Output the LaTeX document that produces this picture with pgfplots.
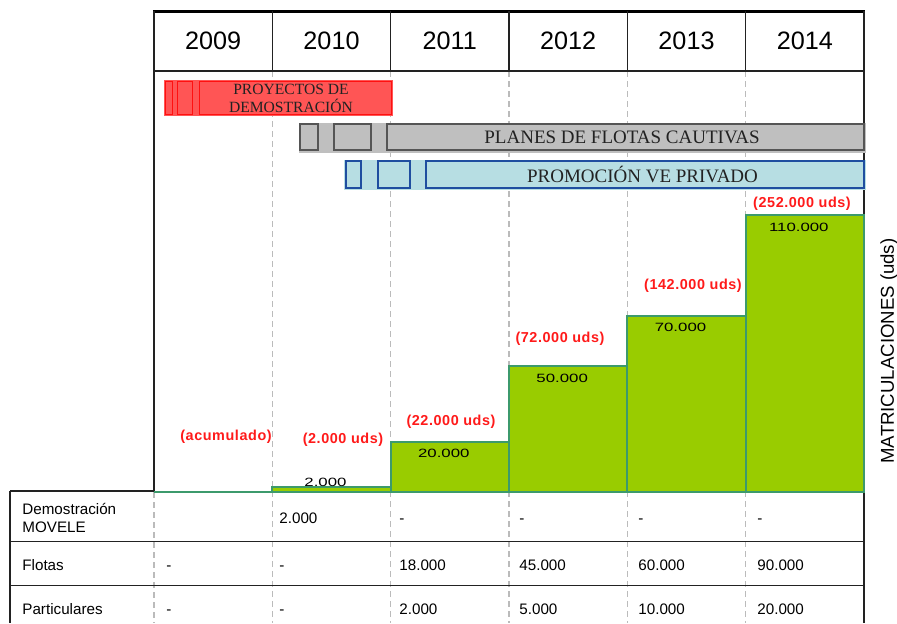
\documentclass[border=0pt]{standalone}
\usepackage{fontspec}
\setmainfont{Liberation Sans}
\newfontfamily\serif{Liberation Serif}
\newfontfamily\redfont[LetterSpace=4]{Liberation Sans}
\usepackage{graphicx}
\usepackage{pgfplots}
\pgfplotsset{compat=1.18}

\definecolor{barfill}{HTML}{99CC00}
\definecolor{baredge}{HTML}{3C9A6C}
\definecolor{redfill}{HTML}{FF5555}
\definecolor{rededge}{HTML}{FF1010}
\definecolor{grayfill}{HTML}{BFBFBF}
\definecolor{grayedge}{HTML}{555555}
\definecolor{bluefill}{HTML}{B7DEE3}
\definecolor{blueedge}{HTML}{1F4EA0}
\definecolor{gridgray}{HTML}{BBBBBB}
\definecolor{redtxt}{HTML}{FF1A1A}
\definecolor{linecol}{HTML}{222222}

\begin{document}
\begin{tikzpicture}
% background frame: coordinates in pixels of the reference (y downwards)
\begin{axis}[name=bg, at={(0,0)}, anchor=south west, scale only axis,
  width=448.5pt, height=311.5pt, xmin=0, xmax=897, ymin=0, ymax=623,
  y dir=reverse, hide axis, clip=false]
  % dashed grid
  \pgfplotsinvokeforeach{272.3,390.7,509,627.3,745.7}{
    \draw[gridgray, line width=0.6pt, dash pattern=on 3pt off 2pt] (#1,71) -- (#1,623);
  }
  \draw[gridgray, line width=0.6pt, dash pattern=on 3pt off 2pt] (154,492) -- (154,623);
  % header
  \draw[black, line width=1.5pt] (153,11.5) -- (864.5,11.5);
  \pgfplotsinvokeforeach{154,272.3,390.7,509,627.3,745.7,864}{
    \draw[linecol, line width=0.75pt] (#1,11) -- (#1,71);
  }
  \draw[linecol, line width=0.8pt] (154,71) -- (864,71);
  \draw[linecol, line width=0.6pt] (154,71) -- (154,492);
  \draw[linecol, line width=0.6pt] (864,71) -- (864,623);
  \node[font=\fontsize{12.6}{14}\selectfont] at (213.2,41) {2009};
  \node[font=\fontsize{12.6}{14}\selectfont] at (331.5,41) {2010};
  \node[font=\fontsize{12.6}{14}\selectfont] at (449.8,41) {2011};
  \node[font=\fontsize{12.6}{14}\selectfont] at (568.2,41) {2012};
  \node[font=\fontsize{12.6}{14}\selectfont] at (686.5,41) {2013};
  \node[font=\fontsize{12.6}{14}\selectfont] at (804.8,41) {2014};
  % timeline: demonstration projects
  \fill[redfill] (164,80) rectangle (393,116);
  \draw[rededge, line width=0.5pt] (165,81) rectangle (172,114);
  \draw[rededge, line width=0.5pt] (177,81) rectangle (192,114);
  \draw[rededge, line width=0.5pt] (199,81) rectangle (391,114);
  \node[align=center, text=linecol, font=\serif\fontsize{7.8}{9}\selectfont] at (291,98) {PROYECTOS DE\\DEMOSTRACIÓN};
  % timeline: fleets
  \fill[grayfill] (299,123) rectangle (866,153);
  \draw[grayedge, line width=0.6pt] (300,124) rectangle (318,150);
  \draw[grayedge, line width=0.6pt] (334,124) rectangle (371,150);
  \draw[grayedge, line width=0.6pt] (387,124) rectangle (864,150);
  \node[text=linecol, font=\serif\fontsize{9.5}{11}\selectfont] at (622,137.5) {PLANES DE FLOTAS CAUTIVAS};
  % timeline: private EV
  \fill[bluefill] (344,160) rectangle (866,190);
  \draw[blueedge, line width=0.6pt] (346,161) rectangle (361,188);
  \draw[blueedge, line width=0.6pt] (378,161) rectangle (410,188);
  \draw[blueedge, line width=0.6pt] (426,161) rectangle (864,188);
  \node[text=linecol, font=\serif\fontsize{9.5}{11}\selectfont] at (642.5,174.5) {PROMOCIÓN VE PRIVADO};
  % cumulative labels
  \node[text=redtxt, font=\redfont\bfseries\fontsize{7.2}{8}\selectfont] at (226,437) {(acumulado)};
  \node[text=redtxt, font=\redfont\bfseries\fontsize{7.2}{8}\selectfont] at (343,440) {(2.000 uds)};
  \node[text=redtxt, font=\redfont\bfseries\fontsize{7.2}{8}\selectfont] at (451,422) {(22.000 uds)};
  \node[text=redtxt, font=\redfont\bfseries\fontsize{7.2}{8}\selectfont] at (560,339) {(72.000 uds)};
  \node[text=redtxt, font=\redfont\bfseries\fontsize{7.2}{8}\selectfont] at (693,286) {(142.000 uds)};
  \node[text=redtxt, font=\redfont\bfseries\fontsize{7.2}{8}\selectfont] at (802,204) {(252.000 uds)};
  % right label
  \node[rotate=90, font=\fontsize{9.3}{11}\selectfont] at (889,351) {MATRICULACIONES (uds)};
  % table
  \draw[linecol, line width=0.6pt] (10,491) -- (154,491);
  \draw[linecol, line width=0.6pt] (10,491) -- (10,623);
  \draw[linecol, line width=0.6pt] (10,541.5) -- (864,541.5);
  \draw[linecol, line width=0.6pt] (10,585.5) -- (864,585.5);
  \draw[black, line width=0.6pt] (154,491.5) -- (864,491.5);
  \begin{scope}[every node/.style={anchor=base west, inner sep=0pt, font=\fontsize{7.6}{9}\selectfont}]
    \node at (22,514) {Demostración};
    \node at (22,532) {MOVELE};
    \node at (279,523.5) {2.000};
    \node at (399,523.5) {-};
    \node at (519,523.5) {-};
    \node at (638,523.5) {-};
    \node at (757,523.5) {-};
    \node at (22,570.5) {Flotas};
    \node at (166,570.5) {-};
    \node at (279,570.5) {-};
    \node at (399,570.5) {18.000};
    \node at (519,570.5) {45.000};
    \node at (638,570.5) {60.000};
    \node at (757,570.5) {90.000};
    \node at (22,614.5) {Particulares};
    \node at (166,614.5) {-};
    \node at (279,614.5) {-};
    \node at (399,614.5) {2.000};
    \node at (519,614.5) {5.000};
    \node at (638,614.5) {10.000};
    \node at (757,614.5) {20.000};
  \end{scope}
\end{axis}

% bar chart: annual registrations
\begin{axis}[at={(77pt,65.5pt)}, anchor=south west, scale only axis,
  width=355pt, height=138.5pt, xmin=2009, xmax=2015, ymin=0, ymax=110000,
  hide axis, clip=false]
  \addplot[ybar interval, fill=barfill, draw=baredge, line width=0.9pt]
    coordinates {(2009,0) (2010,2000) (2011,20000) (2012,50000) (2013,70000) (2014,110000) (2015,0)};
  \begin{scope}[every node/.style={font=\fontsize{6}{7}\selectfont, xshift=-3pt}]
    \node[yshift=2.5pt] at (axis cs:2010.5,2000) {\scalebox{1.4}[1]{2.000}};
    \node[yshift=-6pt] at (axis cs:2011.5,20000) {\scalebox{1.4}[1]{20.000}};
    \node[yshift=-6pt] at (axis cs:2012.5,50000) {\scalebox{1.4}[1]{50.000}};
    \node[yshift=-6pt] at (axis cs:2013.5,70000) {\scalebox{1.4}[1]{70.000}};
    \node[yshift=-6pt] at (axis cs:2014.5,110000) {\scalebox{1.4}[1]{110.000}};
  \end{scope}
\end{axis}
\pgfresetboundingbox
\path[use as bounding box] (0,0) rectangle (448.5pt,311.5pt);
\end{tikzpicture}
\end{document}
